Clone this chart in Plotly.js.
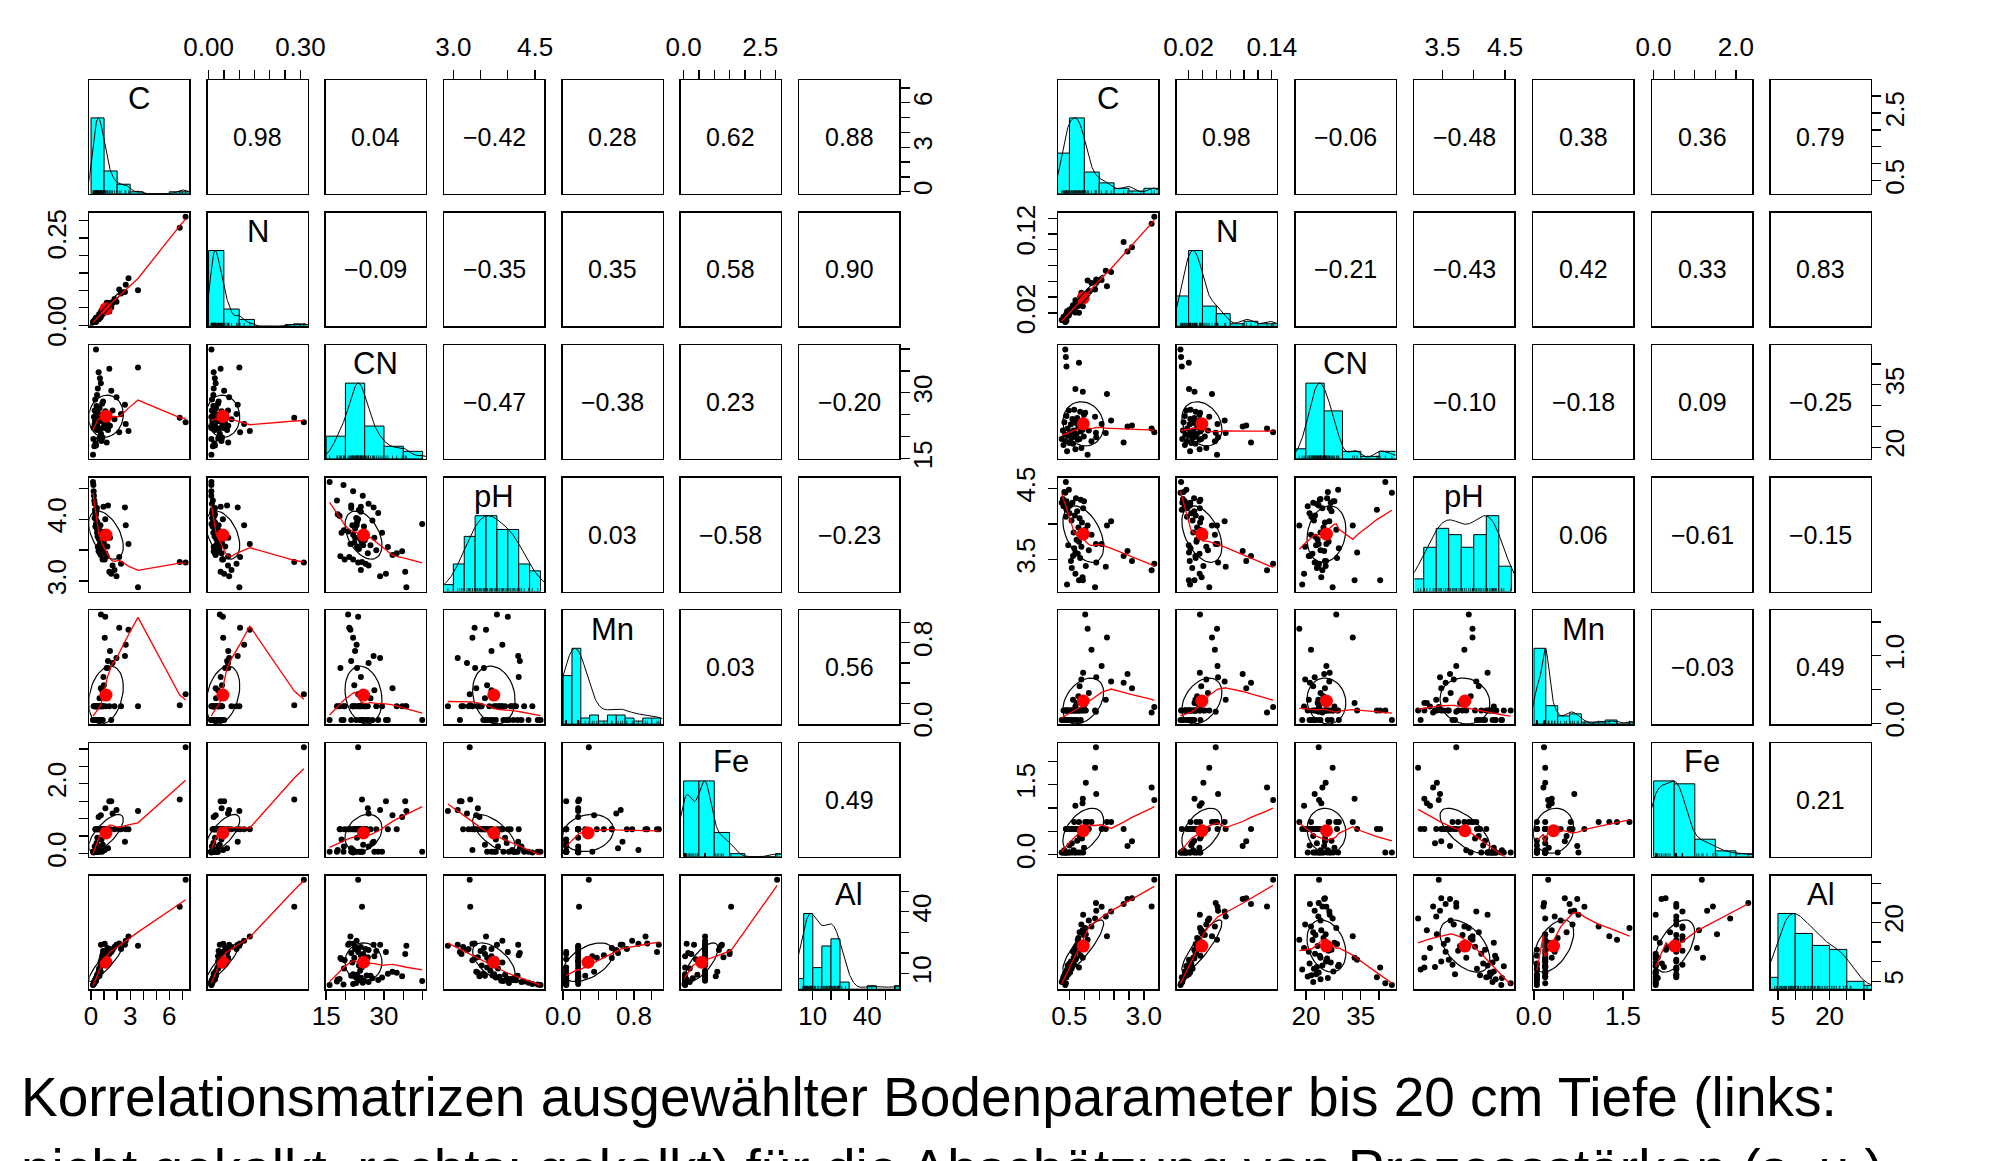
<!DOCTYPE html>
<html><head><meta charset="utf-8">
<script src="https://cdn.plot.ly/plotly-3.0.1.min.js"></script>
<style>html,body{margin:0;padding:0;background:#fff;}#chart{width:1996px;height:1161px;}</style>
</head><body><div id="chart"></div>
<script>
// ---------------- data: left matrix (nicht gekalkt) ----------------
const varNames = ["C","N","CN","pH","Mn","Fe","Al"];
const leftC  = [7.25,6.80,3.60,0.76,1.09,2.16,2.87,1.05,2.66,1.45,2.60,1.30,1.20,0.95,0.15,0.18,0.20,0.22,0.25,0.28,0.30,0.32,0.35,0.38,0.40,0.42,0.44,0.45,0.46,0.48,0.50,0.38,0.27,0.33,0.52,0.55,0.58,0.60,0.62,0.65,0.68,0.70,0.72,0.75,0.78,0.80,0.82,0.85,0.88,0.90,0.92,0.98,1.10,1.25,1.40,1.55,1.65,1.80,1.95,2.30];
const leftN  = [0.3112,0.2798,0.1006,0.0367,0.0468,0.1029,0.1347,0.0477,0.1162,0.0644,0.0952,0.0605,0.0642,0.0396,0.0094,0.0092,0.0091,0.0090,0.0140,0.0108,0.0128,0.0112,0.0189,0.0095,0.0167,0.0156,0.0196,0.0209,0.0156,0.0209,0.0196,0.0211,0.0118,0.0133,0.0168,0.0250,0.0167,0.0252,0.0316,0.0245,0.0204,0.0289,0.0330,0.0233,0.0312,0.0421,0.0349,0.0309,0.0444,0.0366,0.0329,0.0439,0.0426,0.0543,0.0394,0.0508,0.0635,0.0750,0.0672,0.0913];
const leftCN = [23.3,24.3,35.8,20.7,23.3,21.0,21.3,22.0,22.9,22.5,27.3,21.5,18.7,24.0,15.9,19.5,22.0,24.5,17.8,26.0,23.5,28.5,18.5,39.9,24.0,27.0,22.5,21.5,29.5,23.0,25.5,18.0,22.8,24.8,31.0,22.0,34.7,23.8,19.6,26.5,33.3,24.2,21.8,32.2,25.0,19.0,23.5,27.5,19.8,24.6,28.0,22.3,25.8,23.0,35.5,30.5,26.0,24.0,29.0,25.2];
const leftPH = [3.30,3.31,2.90,3.80,4.00,3.39,3.60,3.35,3.90,3.70,4.19,4.22,3.40,4.20,4.60,4.55,4.45,4.38,4.30,4.25,4.15,4.10,4.05,3.92,4.12,3.98,3.85,4.18,3.78,3.95,3.72,4.08,4.02,3.88,3.55,3.75,3.48,3.68,3.82,3.58,3.45,3.62,3.90,3.42,3.66,3.78,3.52,3.70,3.35,3.58,3.50,3.62,3.45,3.56,3.15,3.12,3.25,3.18,3.08,3.28];
const leftMn = [0.29,0.18,0.17,1.08,1.06,0.95,0.93,0.85,0.78,0.72,0.67,0.62,0.55,0.46,0.035,0.035,0.17,0.035,0.17,0.035,0.17,0.035,0.17,0.035,0.17,0.035,0.17,0.035,0.17,0.17,0.035,0.17,0.035,0.17,0.035,0.17,0.17,0.035,0.17,0.25,0.17,0.035,0.17,0.35,0.17,0.035,0.17,0.33,0.17,0.035,0.17,0.38,0.17,0.55,0.17,0.035,0.60,0.17,0.65,0.17];
const leftFe = [3.05,1.55,1.22,0.70,0.70,0.70,0.70,0.10,0.70,0.70,0.34,0.15,0.70,0.70,0.05,0.05,0.03,0.05,0.05,0.20,0.05,0.05,0.70,0.05,0.05,0.30,0.70,0.05,0.05,0.45,0.70,0.10,0.05,0.70,0.70,0.05,1.05,0.70,0.20,0.70,0.70,0.05,0.70,1.10,0.70,0.40,0.70,0.05,0.70,0.25,0.70,0.70,1.30,0.70,1.50,1.50,1.15,0.70,1.25,0.70];
const leftAl = [55.5,42.5,23.6,24.0,20.5,24.6,28.0,24.5,26.0,22.0,24.0,20.0,17.6,19.0,4.5,4.8,5.0,5.6,6.2,6.0,6.8,7.0,7.5,6.5,8.0,7.8,8.5,9.0,8.2,9.5,9.2,7.2,5.5,6.6,10.0,9.8,8.8,11.5,12.5,9.0,10.5,13.0,15.5,11.0,16.0,17.0,14.0,18.5,16.5,19.5,21.0,17.8,18.0,22.5,19.5,20.5,21.5,23.0,24.0,22.0];
const leftCorr = ["0.98","0.04","\u22120.42","0.28","0.62","0.88",
                  "\u22120.09","\u22120.35","0.35","0.58","0.90",
                  "\u22120.47","\u22120.38","0.23","\u22120.20",
                  "0.03","\u22120.58","\u22120.23",
                  "0.03","0.56",
                  "0.49"];
const leftBinWidth = [1,0.05,5,0.2,0.1,0.5,5];
const leftTickVals = [[0,1,2,3,4,5,6,7],[0,0.05,0.1,0.15,0.2,0.25,0.3],[15,20,25,30,35,40],[3.0,3.5,4.0,4.5],[0,0.2,0.4,0.6,0.8,1.0],[0,0.5,1,1.5,2,2.5,3],[10,20,30,40,50]];
const leftTickTextX = [["0","","","3","","","6",""],["0.00","","","","","","0.30"],["15","","","30","",""],["3.0","","","4.5"],["0.0","","","","0.8",""],["0.0","","","","","2.5",""],["10","","","40",""]];
const leftTickTextY = [["0","","","3","","","6",""],["0.00","","","","","0.25",""],["15","","","30","",""],["3.0","","4.0",""],["0.0","","","","0.8",""],["0.0","","","","2.0","",""],["10","","","40",""]];

// ---------------- data: right matrix (gekalkt) ----------------
const rightC  = [3.35,3.26,2.60,2.45,2.32,1.03,1.11,1.76,1.24,0.36,0.38,0.82,0.40,0.70,0.95,1.39,1.36,1.05,0.24,0.28,0.30,0.33,0.35,0.38,0.40,0.42,0.44,0.46,0.48,0.50,0.52,0.55,0.57,0.60,0.62,0.64,0.66,0.68,0.70,0.72,0.74,0.76,0.78,0.80,0.82,0.84,0.86,0.88,0.90,0.92,0.94,0.96,0.98,0.99,0.58,1.15,1.40,1.58,1.72,1.90];
const rightN  = [0.1419,0.1331,0.1032,0.0980,0.1100,0.0364,0.0610,0.0537,0.0579,0.0083,0.0091,0.0203,0.0102,0.0206,0.0285,0.0591,0.0498,0.0413,0.0109,0.0117,0.0146,0.0127,0.0152,0.0177,0.0145,0.0221,0.0180,0.0202,0.0167,0.0238,0.0221,0.0216,0.0257,0.0224,0.0298,0.0267,0.0228,0.0302,0.0359,0.0279,0.0319,0.0281,0.0358,0.0323,0.0313,0.0382,0.0302,0.0370,0.0455,0.0365,0.0388,0.0362,0.0434,0.0356,0.0252,0.0479,0.0625,0.0617,0.0735,0.0720];
const rightCN = [23.6,24.5,25.2,25.0,21.1,28.3,18.2,32.8,21.4,43.5,41.7,40.3,39.4,34.0,33.3,23.5,27.3,25.4,22.0,24.0,20.5,26.0,23.0,21.5,27.5,19.0,24.5,22.8,28.8,21.0,23.5,25.5,22.2,26.8,20.8,24.0,29.0,22.5,19.5,25.8,23.2,27.0,21.8,24.8,26.2,22.0,28.5,23.8,19.8,25.2,24.2,26.5,22.6,27.8,23.0,24.0,22.4,25.6,23.4,26.4];
const rightPH = [3.44,3.35,3.48,3.62,3.55,3.92,3.98,3.98,3.85,4.44,4.59,3.21,4.20,3.60,3.21,3.72,3.11,3.41,4.30,4.35,4.25,4.45,4.28,4.10,4.32,3.15,4.22,3.70,4.48,4.15,4.26,3.48,4.05,4.30,3.55,3.88,3.66,4.12,3.30,4.36,3.78,4.18,3.58,3.95,3.75,4.08,3.52,4.34,3.68,4.02,3.25,4.22,3.82,4.32,3.38,3.63,3.46,3.72,3.40,4.04];
const rightMn = [0.24,0.16,0.52,0.73,0.60,1.61,1.40,1.27,1.09,0.05,0.19,0.19,0.19,0.19,0.30,0.17,0.19,0.19,0.05,0.05,0.19,0.05,0.19,0.05,0.19,0.05,0.19,0.05,0.19,0.05,0.19,0.19,0.05,0.19,0.35,0.19,0.05,0.19,0.25,0.19,0.30,0.05,0.19,0.40,0.19,0.55,0.19,0.05,0.65,0.19,0.30,0.75,0.19,0.25,0.19,0.45,0.68,0.85,0.35,0.62];
const rightFe = [1.17,1.44,0.29,0.19,0.55,0.70,0.70,0.70,0.70,0.05,0.05,0.55,0.55,0.55,1.20,2.30,1.86,1.54,0.05,0.05,0.05,0.10,0.05,0.55,0.05,0.55,0.05,0.55,0.05,0.20,0.05,0.55,0.55,0.05,0.55,0.10,0.70,0.05,1.05,0.05,0.55,0.30,0.55,0.05,0.70,0.40,0.55,0.05,0.55,0.35,1.10,0.05,0.55,0.15,0.25,0.55,1.30,0.55,0.55,0.70];
const rightAl = [30.9,24.1,26.2,26.0,24.7,18.6,15.6,16.5,19.0,4.0,4.5,8.5,6.0,10.5,11.0,25.0,21.0,17.0,4.8,5.5,6.2,5.8,7.0,6.5,7.5,8.0,9.0,6.8,8.8,9.5,7.2,10.0,8.2,9.8,12.5,11.0,9.2,12.0,13.5,10.8,14.0,13.0,15.5,16.0,12.8,17.5,14.5,11.5,19.5,13.8,18.0,22.0,16.8,14.8,8.6,20.5,23.0,24.0,21.5,22.8];
const rightCorr = ["0.98","\u22120.06","\u22120.48","0.38","0.36","0.79",
                   "\u22120.21","\u22120.43","0.42","0.33","0.83",
                   "\u22120.10","\u22120.18","0.09","\u22120.25",
                   "0.06","\u22120.61","\u22120.15",
                   "\u22120.03","0.49",
                   "0.21"];
const rightBinWidth = [0.5,0.02,5,0.2,0.2,0.5,5];
const rightTickVals = [[0.5,1,1.5,2,2.5,3,3.5],[0.02,0.04,0.06,0.08,0.1,0.12,0.14],[20,25,30,35,40],[3.5,4,4.5],[0,0.5,1,1.5],[0,0.5,1,1.5,2],[5,10,15,20,25,30]];
const rightTickTextX = [["0.5","","","","","3.0",""],["0.02","","","","","","0.14"],["20","","","35",""],["3.5","","4.5"],["0.0","","","1.5"],["0.0","","","","2.0"],["5","","","20","",""]];
const rightTickTextY = [["0.5","","","","2.5","",""],["0.02","","","","","0.12",""],["20","","","35",""],["3.5","","4.5"],["0.0","","1.0",""],["0.0","","","1.5",""],["5","","","20","",""]];

const captionLines = ["Korrelationsmatrizen ausgewählter Bodenparameter bis 20 cm Tiefe (links:",
                      "nicht gekalkt, rechts: gekalkt) für die Abschätzung von Prozessstärken (s. u.)"];

// ---------------- helpers (R-like statistics) ----------------
function mean(a){let s=0;for(const v of a)s+=v;return s/a.length;}
function sdev(a){const m=mean(a);let s=0;for(const v of a)s+=(v-m)*(v-m);return Math.sqrt(s/(a.length-1));}
function cor(a,b){const ma=mean(a),mb=mean(b);let sab=0,saa=0,sbb=0;for(let i=0;i<a.length;i++){const da=a[i]-ma,db=b[i]-mb;sab+=da*db;saa+=da*da;sbb+=db*db;}return sab/Math.sqrt(saa*sbb);}
function usr(a){const mn=Math.min(...a),mx=Math.max(...a),r=mx-mn;return [mn-0.04*r,mx+0.04*r];}
function quantile7(a,p){const s=[...a].sort((x,y)=>x-y);const h=(s.length-1)*p;const lo=Math.floor(h);const hi=Math.min(lo+1,s.length-1);return s[lo]+(h-lo)*(s[hi]-s[lo]);}
function bwNrd(a){const h=(quantile7(a,0.75)-quantile7(a,0.25))/1.34;return 1.06*Math.min(sdev(a),h)*Math.pow(a.length,-0.2);}
function density(a){const bw=bwNrd(a);const lo=Math.min(...a)-3*bw,hi=Math.max(...a)+3*bw;const xs=[],ys=[];for(let k=0;k<512;k++){const t=lo+(hi-lo)*k/511;let s=0;for(const v of a){const z=(t-v)/bw;s+=Math.exp(-0.5*z*z);}xs.push(t);ys.push(s);}const m=Math.max(...ys);return {x:xs,y:ys.map(v=>v/m)};}
function histogram(a,w){const lo=Math.floor(Math.min(...a)/w+1e-9)*w;const hi=Math.ceil(Math.max(...a)/w-1e-9)*w;const nb=Math.round((hi-lo)/w);const cnt=new Array(nb).fill(0);for(const v of a){let idx=Math.ceil((v-lo)/w-1e-7)-1;if(idx<0)idx=0;if(idx>=nb)idx=nb-1;cnt[idx]++;}const m=Math.max(...cnt);const xc=[],yh=[],wd=[];for(let b=0;b<nb;b++){xc.push(lo+(b+0.5)*w);yh.push(cnt[b]/m);wd.push(w);}return {x:xc,y:yh,w:wd};}
function lowess(xIn,yIn){
  const f=2/3,nsteps=3,n=xIn.length;
  const ord=xIn.map((v,i)=>i).sort((p,q)=>(xIn[p]-xIn[q])||(p-q));
  const x=[0],y=[0];ord.forEach(i=>{x.push(xIn[i]);y.push(yIn[i]);});
  const delta=0.01*(x[n]-x[1]);
  const ys=new Array(n+1).fill(0),rw=new Array(n+1).fill(1),res=new Array(n+1).fill(0),w=new Array(n+1).fill(0);
  const ns=Math.max(2,Math.min(n,Math.floor(f*n+1e-7)));
  function lowest(xs,nleft,nright,userw){
    const range=x[n]-x[1];const h=Math.max(xs-x[nleft],x[nright]-xs);const h9=0.999*h,h1=0.001*h;
    let a=0,j=nleft;
    while(j<=n){w[j]=0;const r=Math.abs(x[j]-xs);
      if(r<=h9){w[j]=(r<=h1)?1:Math.pow(1-Math.pow(r/h,3),3);if(userw)w[j]*=rw[j];a+=w[j];}
      else if(x[j]>xs)break;
      j++;}
    const nrt=j-1;if(a<=0)return null;
    for(j=nleft;j<=nrt;j++)w[j]/=a;
    if(h>0){a=0;for(j=nleft;j<=nrt;j++)a+=w[j]*x[j];let b=xs-a,c=0;for(j=nleft;j<=nrt;j++)c+=w[j]*(x[j]-a)*(x[j]-a);
      if(Math.sqrt(c)>0.001*range){b/=c;for(j=nleft;j<=nrt;j++)w[j]*=(b*(x[j]-a)+1);}}
    let v=0;for(j=nleft;j<=nrt;j++)v+=w[j]*y[j];return v;}
  let iter=1;
  while(iter<=nsteps+1){
    let nleft=1,nright=ns,last=0,i=1;
    for(;;){
      if(nright<n){const d1=x[i]-x[nleft],d2=x[nright+1]-x[i];if(d1>d2){nleft++;nright++;continue;}}
      const v=lowest(x[i],nleft,nright,iter>1);ys[i]=(v===null)?y[i]:v;
      if(last<i-1){const denom=x[i]-x[last];for(let j=last+1;j<i;j++){const al=(x[j]-x[last])/denom;ys[j]=al*ys[i]+(1-al)*ys[last];}}
      last=i;const cut=x[last]+delta;
      for(i=last+1;i<=n;i++){if(x[i]>cut)break;if(x[i]===x[last]){ys[i]=ys[last];last=i;}}
      i=Math.max(last+1,i-1);
      if(last>=n)break;}
    for(let k=1;k<=n;k++)res[k]=y[k]-ys[k];
    let sc=0;for(let k=1;k<=n;k++)sc+=Math.abs(res[k]);sc/=n;
    if(iter>nsteps)break;
    const arr=[];for(let k=1;k<=n;k++)arr.push(Math.abs(res[k]));arr.sort((p,q)=>p-q);
    const m1=Math.floor(n/2);let cmad;
    if(n%2===0){const m2=n-m1-1;cmad=3*(arr[m1]+arr[m2]);}else cmad=6*arr[m1];
    if(cmad<1e-7*sc)break;
    const c9=0.999*cmad,c1=0.001*cmad;
    for(let k=1;k<=n;k++){const r=Math.abs(res[k]);rw[k]=r<=c1?1:(r<=c9?Math.pow(1-Math.pow(r/cmad,2),2):0);}
    iter++;}
  return {x:x.slice(1),y:ys.slice(1)};
}
function ellipse(xm,ym,xs,ysd,r){const seg=51;const th=Math.abs(r)>0?Math.sign(r)/Math.SQRT2:1/Math.SQRT2;const a=Math.sqrt(1+r),b=Math.sqrt(1-r);const ex=[],ey=[];for(let k=0;k<=seg;k++){const ang=k*2*Math.PI/seg;const c=Math.cos(ang),s=Math.sin(ang);ex.push((c*a*th-s*b*th)*xs+xm);ey.push((c*a*th+s*b*th)*ysd+ym);}return {x:ex,y:ey};}

// ---------------- layout geometry ----------------
const W=1996,H=1161,PW=100,PH=113.7,ROW0=80,ROWP=132.6;
const MX0=[89.3,1058],COLP=[118.3,118.8];
const FONT='Liberation Sans, Arial, Helvetica, sans-serif';
const datasets=[
  {vars:[leftC,leftN,leftCN,leftPH,leftMn,leftFe,leftAl],corr:leftCorr,bw:leftBinWidth,tv:leftTickVals,tx:leftTickTextX,ty:leftTickTextY},
  {vars:[rightC,rightN,rightCN,rightPH,rightMn,rightFe,rightAl],corr:rightCorr,bw:rightBinWidth,tv:rightTickVals,tx:rightTickTextX,ty:rightTickTextY}
];
const traces=[];
const layout={width:W,height:H,margin:{l:0,r:0,t:0,b:0},paper_bgcolor:'#fff',plot_bgcolor:'#fff',showlegend:false,annotations:[],font:{family:FONT,color:'#000'}};
function baseAxis(){return {showline:true,mirror:true,linecolor:'#000',linewidth:1.5,showgrid:false,zeroline:false,ticks:'',showticklabels:false,fixedrange:true};}
function setTicks(ax,side,vals,texts){ax.side=side;ax.ticks='outside';ax.ticklen=9;ax.tickwidth=1.3;ax.tickcolor='#000';ax.tickmode='array';ax.tickvals=vals;ax.ticktext=texts;ax.showticklabels=true;ax.tickfont={family:FONT,size:26,color:'#000'};}
let k=0,extra=98;
datasets.forEach((ds,m)=>{
  const U=ds.vars.map(usr);
  let ci=0;
  for(let i=0;i<7;i++)for(let j=0;j<7;j++){
    k++;
    const xa='x'+(k===1?'':k),ya='y'+(k===1?'':k);
    const xl=MX0[m]+j*COLP[m],yt=ROW0+i*ROWP;
    const xaxis=baseAxis(),yaxis=baseAxis();
    xaxis.domain=[xl/W,(xl+PW)/W];xaxis.range=U[j];xaxis.anchor=ya;
    yaxis.domain=[1-(yt+PH)/H,1-yt/H];yaxis.anchor=xa;yaxis.range=(i===j)?[0,1.5]:U[i];
    if(i===0&&j%2===1){setTicks(xaxis,'top',ds.tv[j],ds.tx[j]);xaxis.ticklabelstandoff=3;}
    if(i===6&&j%2===0){setTicks(xaxis,'bottom',ds.tv[j],ds.tx[j]);xaxis.ticklabelstandoff=-6;}
    if(j===0&&i%2===1){setTicks(yaxis,'left',ds.tv[i],ds.ty[i]);yaxis.tickangle=-90;yaxis.ticklabelstandoff=2;}
    if(j===6&&i%2===0&&i!==6){setTicks(yaxis,'right',ds.tv[i],ds.ty[i]);yaxis.tickangle=-90;yaxis.ticklabelstandoff=-9;}
    layout['xaxis'+(k===1?'':k)]=xaxis;layout['yaxis'+(k===1?'':k)]=yaxis;
    if(i===6&&j===6){
      extra++;const oy=baseAxis();oy.showline=false;oy.overlaying=ya;oy.anchor=xa;oy.range=U[6];
      setTicks(oy,'right',ds.tv[6],ds.ty[6]);oy.tickangle=-90;oy.ticklabelstandoff=-9;
      layout['yaxis'+extra]=oy;
      traces.push({type:'scatter',x:[],y:[],xaxis:xa,yaxis:'y'+extra,hoverinfo:'skip'});
    }
    if(i>j){
      const X=ds.vars[j],Y=ds.vars[i];
      traces.push({type:'scatter',mode:'markers',x:X,y:Y,xaxis:xa,yaxis:ya,marker:{color:'#000',size:6},hoverinfo:'skip'});
      const xm=mean(X),ym=mean(Y);
      traces.push({type:'scatter',mode:'markers',x:[xm],y:[ym],xaxis:xa,yaxis:ya,marker:{color:'#FF0000',size:13},hoverinfo:'skip'});
      const e=ellipse(xm,ym,sdev(X),sdev(Y),cor(X,Y));
      traces.push({type:'scatter',mode:'lines',x:e.x,y:e.y,xaxis:xa,yaxis:ya,line:{color:'#000',width:1.2},hoverinfo:'skip'});
      const lw=lowess(X,Y);
      traces.push({type:'scatter',mode:'lines',x:lw.x,y:lw.y,xaxis:xa,yaxis:ya,line:{color:'#FF0000',width:1.3},hoverinfo:'skip'});
    } else if(i===j){
      const X=ds.vars[j];const h=histogram(X,ds.bw[j]);
      traces.push({type:'bar',x:h.x,y:h.y,width:h.w,xaxis:xa,yaxis:ya,marker:{color:'#00FFFF',line:{color:'#000',width:1}},hoverinfo:'skip'});
      const d=density(X);
      traces.push({type:'scatter',mode:'lines',x:d.x,y:d.y,xaxis:xa,yaxis:ya,line:{color:'#000',width:1},hoverinfo:'skip'});
      const rx=[],ry=[];X.forEach(v=>{rx.push(v,v,null);ry.push(0,0.045,null);});
      traces.push({type:'scatter',mode:'lines',x:rx,y:ry,xaxis:xa,yaxis:ya,line:{color:'#000',width:0.7},hoverinfo:'skip'});
      layout.annotations.push({xref:xa+' domain',yref:ya+' domain',x:0.5,y:1-18.7/PH,xanchor:'center',yanchor:'middle',text:varNames[j],showarrow:false,font:{family:FONT,size:31,color:'#000'}});
    } else {
      traces.push({type:'scatter',mode:'markers',x:[],y:[],xaxis:xa,yaxis:ya,hoverinfo:'skip'});
      layout.annotations.push({xref:xa+' domain',yref:ya+' domain',x:0.5,y:0.5,xanchor:'center',yanchor:'middle',text:ds.corr[ci],showarrow:false,font:{family:FONT,size:25,color:'#000'}});
      ci++;
    }
  }
});
captionLines.forEach((t,li)=>{
  layout.annotations.push({xref:'paper',yref:'paper',x:19/W,y:1-(1097+li*72)/H,xanchor:'left',yanchor:'middle',text:t,showarrow:false,font:{family:FONT,size:55,color:'#000'}});
});
Plotly.newPlot('chart',traces,layout,{staticPlot:true,displayModeBar:false});
</script>
</body></html>
